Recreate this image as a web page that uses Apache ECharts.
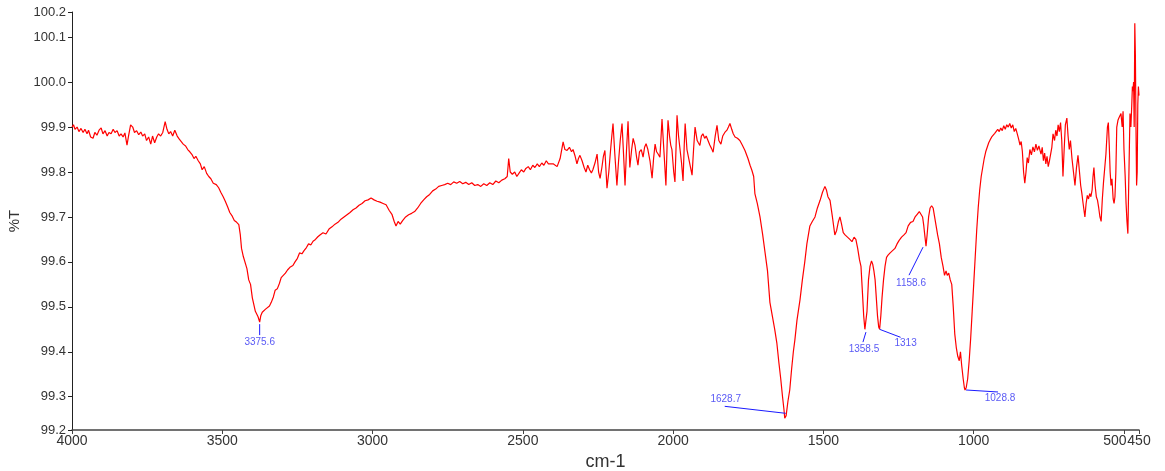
<!DOCTYPE html>
<html>
<head>
<meta charset="utf-8">
<title>FTIR %T spectrum</title>
<script src="https://cdn.jsdelivr.net/npm/echarts@6/dist/echarts.min.js"></script>
<style>
  html, body { margin: 0; padding: 0; background: #ffffff; overflow: hidden; }
  #chart { width: 1165px; height: 471px; }
</style>
</head>
<body>
<div id="chart"></div>
<script>
// Spectrum points: [wavenumber (cm-1), transmittance (%T)]
const spectrum = [
  [4000, 99.900], [3995, 99.905], [3990, 99.895], [3983, 99.900], [3977, 99.890],
  [3970, 99.897], [3963, 99.888], [3957, 99.895], [3950, 99.885], [3945, 99.893],
  [3938, 99.878], [3930, 99.875], [3924, 99.888], [3917, 99.882], [3910, 99.893],
  [3903, 99.898], [3897, 99.885], [3890, 99.892], [3883, 99.880], [3877, 99.888],
  [3870, 99.885], [3863, 99.895], [3857, 99.888], [3850, 99.892], [3843, 99.880],
  [3837, 99.885], [3830, 99.878], [3824, 99.887], [3817, 99.860], [3812, 99.880],
  [3805, 99.905], [3798, 99.900], [3792, 99.888], [3785, 99.892], [3778, 99.883],
  [3771, 99.889], [3765, 99.880], [3758, 99.885], [3752, 99.870], [3745, 99.878],
  [3738, 99.862], [3732, 99.880], [3725, 99.865], [3718, 99.878], [3712, 99.885],
  [3705, 99.880], [3698, 99.888], [3690, 99.912], [3684, 99.895], [3678, 99.885],
  [3672, 99.890], [3665, 99.880], [3658, 99.893], [3650, 99.880], [3643, 99.873],
  [3637, 99.870], [3630, 99.862], [3622, 99.858], [3615, 99.850], [3608, 99.845],
  [3600, 99.838], [3594, 99.830], [3588, 99.835], [3580, 99.825], [3573, 99.818],
  [3567, 99.805], [3560, 99.812], [3552, 99.797], [3545, 99.790], [3538, 99.785],
  [3530, 99.775], [3520, 99.772], [3512, 99.765], [3505, 99.755], [3497, 99.745],
  [3490, 99.735], [3482, 99.722], [3475, 99.710], [3468, 99.703], [3460, 99.692],
  [3452, 99.688], [3445, 99.683], [3440, 99.660], [3436, 99.630], [3430, 99.612],
  [3424, 99.608], [3418, 99.585], [3412, 99.560], [3406, 99.550], [3400, 99.520],
  [3395, 99.505], [3390, 99.490], [3385, 99.488], [3381, 99.478], [3375.6, 99.466],
  [3372, 99.480], [3367, 99.488], [3362, 99.486], [3356, 99.495], [3350, 99.498],
  [3343, 99.502], [3337, 99.510], [3330, 99.522], [3324, 99.537], [3317, 99.540],
  [3310, 99.552], [3304, 99.565], [3297, 99.570], [3290, 99.575], [3283, 99.582],
  [3275, 99.588], [3265, 99.592], [3258, 99.600], [3250, 99.608], [3243, 99.620],
  [3235, 99.618], [3228, 99.625], [3220, 99.632], [3213, 99.640], [3205, 99.638],
  [3198, 99.646], [3190, 99.650], [3182, 99.656], [3175, 99.660], [3165, 99.665],
  [3155, 99.662], [3145, 99.673], [3135, 99.678], [3125, 99.684], [3115, 99.688],
  [3105, 99.695], [3095, 99.700], [3085, 99.705], [3075, 99.710], [3065, 99.716],
  [3055, 99.720], [3045, 99.726], [3035, 99.730], [3025, 99.736], [3015, 99.738],
  [3005, 99.742], [2995, 99.738], [2985, 99.735], [2975, 99.733], [2965, 99.730],
  [2955, 99.727], [2945, 99.715], [2935, 99.705], [2928, 99.690], [2922, 99.680],
  [2915, 99.690], [2908, 99.684], [2900, 99.692], [2890, 99.700], [2880, 99.705],
  [2870, 99.708], [2860, 99.712], [2850, 99.720], [2840, 99.730], [2830, 99.738],
  [2820, 99.745], [2810, 99.750], [2800, 99.758], [2790, 99.762], [2780, 99.768],
  [2770, 99.770], [2760, 99.772], [2750, 99.775], [2740, 99.772], [2730, 99.778],
  [2720, 99.775], [2710, 99.779], [2700, 99.774], [2690, 99.777], [2680, 99.772],
  [2670, 99.776], [2660, 99.770], [2650, 99.772], [2640, 99.768], [2630, 99.774],
  [2620, 99.770], [2610, 99.776], [2600, 99.772], [2590, 99.780], [2580, 99.776],
  [2570, 99.782], [2560, 99.785], [2552, 99.790], [2547, 99.830], [2542, 99.800],
  [2535, 99.795], [2527, 99.800], [2520, 99.790], [2512, 99.798], [2505, 99.805],
  [2497, 99.800], [2490, 99.808], [2482, 99.812], [2475, 99.805], [2467, 99.815],
  [2460, 99.810], [2452, 99.818], [2445, 99.812], [2437, 99.820], [2430, 99.815],
  [2422, 99.825], [2415, 99.818], [2410, 99.815], [2398, 99.818], [2386, 99.812],
  [2376, 99.830], [2366, 99.867], [2360, 99.850], [2353, 99.848], [2345, 99.855],
  [2338, 99.845], [2333, 99.850], [2326, 99.835], [2320, 99.818], [2315, 99.830],
  [2310, 99.837], [2303, 99.825], [2296, 99.810], [2290, 99.800], [2284, 99.815],
  [2278, 99.805], [2272, 99.798], [2267, 99.805], [2260, 99.820], [2253, 99.840],
  [2248, 99.800], [2243, 99.786], [2237, 99.810], [2232, 99.835], [2227, 99.848],
  [2220, 99.764], [2214, 99.800], [2208, 99.850], [2204, 99.880], [2200, 99.908],
  [2194, 99.840], [2187, 99.770], [2182, 99.820], [2176, 99.870], [2170, 99.908],
  [2165, 99.840], [2160, 99.770], [2155, 99.850], [2150, 99.913], [2147, 99.860],
  [2144, 99.810], [2138, 99.850], [2133, 99.875], [2127, 99.860], [2122, 99.835],
  [2117, 99.815], [2112, 99.845], [2106, 99.850], [2100, 99.833], [2095, 99.855],
  [2090, 99.863], [2084, 99.850], [2077, 99.825], [2070, 99.786], [2065, 99.830],
  [2060, 99.862], [2055, 99.845], [2050, 99.840], [2044, 99.833], [2040, 99.880],
  [2037, 99.918], [2030, 99.840], [2024, 99.770], [2020, 99.860], [2017, 99.915],
  [2012, 99.880], [2008, 99.860], [2004, 99.850], [1998, 99.800], [1994, 99.778],
  [1990, 99.860], [1987, 99.926], [1982, 99.880], [1977, 99.850], [1972, 99.820],
  [1967, 99.780], [1963, 99.860], [1960, 99.908], [1956, 99.870], [1954, 99.850],
  [1948, 99.830], [1942, 99.810], [1937, 99.793], [1932, 99.850], [1927, 99.900],
  [1920, 99.870], [1916, 99.865], [1911, 99.859], [1906, 99.880], [1901, 99.885],
  [1895, 99.875], [1890, 99.880], [1884, 99.870], [1878, 99.860], [1872, 99.852],
  [1867, 99.844], [1860, 99.880], [1854, 99.904], [1848, 99.870], [1841, 99.862],
  [1835, 99.880], [1828, 99.888], [1821, 99.893], [1816, 99.900], [1811, 99.908],
  [1805, 99.895], [1800, 99.885], [1794, 99.878], [1786, 99.875], [1778, 99.870],
  [1770, 99.860], [1761, 99.848], [1751, 99.830], [1744, 99.815], [1738, 99.804],
  [1732, 99.790], [1728, 99.752], [1720, 99.730], [1711, 99.700], [1702, 99.660],
  [1694, 99.620], [1686, 99.580], [1678, 99.510], [1670, 99.480], [1662, 99.450],
  [1655, 99.420], [1648, 99.375], [1642, 99.340], [1636, 99.300], [1631, 99.270],
  [1628.7, 99.252], [1624, 99.258], [1618, 99.290], [1612, 99.315], [1606, 99.360],
  [1600, 99.400], [1595, 99.426], [1588, 99.470], [1578, 99.515], [1570, 99.560],
  [1562, 99.600], [1555, 99.640], [1545, 99.680], [1537, 99.690], [1528, 99.700],
  [1520, 99.720], [1511, 99.737], [1503, 99.755], [1495, 99.768], [1490, 99.760],
  [1485, 99.745], [1478, 99.737], [1470, 99.700], [1462, 99.660], [1456, 99.670],
  [1450, 99.690], [1445, 99.700], [1440, 99.685], [1434, 99.665], [1428, 99.660],
  [1420, 99.655], [1412, 99.650], [1405, 99.645], [1398, 99.655], [1392, 99.650],
  [1386, 99.630], [1380, 99.605], [1375, 99.590], [1370, 99.530], [1366, 99.480],
  [1362, 99.450], [1358.5, 99.446], [1355, 99.490], [1350, 99.560], [1345, 99.590],
  [1340, 99.602], [1336, 99.595], [1332, 99.580], [1328, 99.560], [1324, 99.520],
  [1320, 99.480], [1316, 99.455], [1313, 99.450], [1309, 99.480], [1305, 99.520],
  [1300, 99.560], [1295, 99.590], [1290, 99.610], [1285, 99.615], [1278, 99.620],
  [1270, 99.625], [1262, 99.630], [1255, 99.640], [1248, 99.648], [1240, 99.655],
  [1232, 99.660], [1225, 99.665], [1218, 99.680], [1210, 99.688], [1202, 99.690],
  [1195, 99.700], [1188, 99.706], [1181, 99.712], [1175, 99.715], [1170, 99.700],
  [1166, 99.680], [1162, 99.655], [1158.6, 99.635], [1155, 99.660], [1150, 99.700],
  [1145, 99.720], [1140, 99.725], [1135, 99.720], [1130, 99.700], [1125, 99.680],
  [1120, 99.660], [1114, 99.640], [1108, 99.610], [1102, 99.590], [1097, 99.570],
  [1092, 99.580], [1088, 99.570], [1083, 99.575], [1078, 99.560], [1073, 99.550],
  [1068, 99.500], [1063, 99.440], [1058, 99.410], [1053, 99.390], [1048, 99.380],
  [1044, 99.400], [1040, 99.370], [1035, 99.340], [1031, 99.320], [1028.8, 99.315],
  [1025, 99.320], [1020, 99.340], [1015, 99.380], [1010, 99.430], [1005, 99.490],
  [1000, 99.550], [995, 99.610], [990, 99.670], [985, 99.720], [980, 99.760],
  [975, 99.790], [970, 99.810], [965, 99.830], [960, 99.845], [955, 99.855],
  [950, 99.865], [945, 99.872], [940, 99.878], [935, 99.882], [930, 99.886],
  [925, 99.888], [920, 99.895], [915, 99.890], [910, 99.898], [905, 99.892],
  [900, 99.903], [895, 99.895], [890, 99.905], [885, 99.900], [880, 99.908],
  [875, 99.898], [870, 99.905], [865, 99.890], [860, 99.897], [855, 99.885],
  [850, 99.872], [846, 99.860], [842, 99.868], [838, 99.845], [834, 99.800],
  [830, 99.775], [826, 99.800], [822, 99.832], [818, 99.820], [813, 99.850],
  [808, 99.838], [803, 99.856], [798, 99.845], [793, 99.862], [788, 99.848],
  [783, 99.858], [780, 99.850], [776, 99.840], [772, 99.855], [768, 99.825],
  [764, 99.842], [760, 99.818], [756, 99.835], [752, 99.812], [748, 99.825],
  [744, 99.840], [740, 99.855], [736, 99.885], [731, 99.870], [727, 99.893],
  [723, 99.880], [719, 99.905], [715, 99.890], [711, 99.910], [707, 99.870],
  [703, 99.790], [699, 99.850], [695, 99.905], [690, 99.920], [686, 99.880],
  [682, 99.850], [678, 99.870], [673, 99.830], [668, 99.800], [663, 99.770],
  [658, 99.810], [653, 99.837], [648, 99.800], [644, 99.770], [640, 99.752],
  [636, 99.730], [632, 99.710], [630, 99.700], [626, 99.730], [622, 99.748],
  [618, 99.740], [614, 99.752], [610, 99.745], [606, 99.760], [603, 99.790],
  [600, 99.810], [596, 99.770], [592, 99.745], [588, 99.737], [584, 99.720],
  [580, 99.700], [576, 99.690], [572, 99.740], [568, 99.778], [564, 99.780],
  [560, 99.840], [555, 99.900], [552, 99.910], [549, 99.860], [546, 99.800],
  [543, 99.770], [540, 99.785], [536, 99.740], [533, 99.730], [530, 99.745],
  [527, 99.800], [524, 99.900], [520, 99.915], [517, 99.920], [513, 99.920],
  [510, 99.930], [506, 99.900], [503, 99.935], [500, 99.850], [496, 99.790],
  [493, 99.730], [490, 99.690], [487, 99.663], [484, 99.780], [480, 99.930],
  [477, 99.900], [474, 99.950], [472, 99.990], [470, 99.980], [468, 100.000],
  [466, 99.900], [464, 100.131], [462, 100.060], [460, 99.900], [458, 99.770],
  [456, 99.800], [454, 99.950], [452, 99.990], [450, 99.970]
];

// Marked absorption bands
const peakWavenumbers = [3375.6, 1628.7, 1358.5, 1313, 1158.6, 1028.8];
const peakTransmittance = [99.466, 99.252, 99.446, 99.450, 99.635, 99.315];
const peakLabels = ['3375.6', '1628.7', '1358.5', '1313', '1158.6', '1028.8'];

// Axis tick values
const xTicks = [4000, 3500, 3000, 2500, 2000, 1500, 1000, 500, 450];
const xMainLabels = [4000, 3500, 3000, 2500, 2000, 1500, 1000, 500];
const xEndLabel = [450];
const yTicks = [99.226, 99.3, 99.4, 99.5, 99.6, 99.7, 99.8, 99.9, 100.0, 100.1, 100.156];

// Leader-line geometry for each band label, in pixels relative to the band point
const leaderLayout = [
  { from: [0, 2],  to: [0, 13],   text: [0, 20] },
  { from: [1, -5], to: [-60, -12], text: [-59, -19] },
  { from: [0, 1],  to: [-3, 11],  text: [-2, 18] },
  { from: [0, 0],  to: [21, 8],   text: [26, 14] },
  { from: [-3, 1], to: [-17, 29], text: [-15, 37] },
  { from: [1, 0],  to: [33, 2],   text: [35, 8] }
];

const chart = echarts.init(document.getElementById('chart'), null, { renderer: 'canvas' });

const axisFont = "'Liberation Sans', Arial, sans-serif";
const labelRich = {
  n: { fontFamily: axisFont, fontSize: 14, color: '#333' },
  l: { fontFamily: axisFont, fontSize: 14, color: '#333', padding: [0, 18, 0, 0] }
};

chart.setOption({
  animation: false,
  backgroundColor: '#ffffff',
  grid: { left: 72, right: 26, top: 12, bottom: 41, containLabel: false, outerBoundsMode: 'none' },
  xAxis: [
    {
      type: 'value',
      inverse: true,
      min: 450,
      max: 4000,
      name: 'cm-1',
      nameLocation: 'middle',
      nameGap: 22,
      nameTextStyle: { fontFamily: axisFont, fontSize: 18, color: '#333' },
      axisLine: { show: true, lineStyle: { color: '#444', width: 1.5 } },
      axisTick: { show: true, inside: false, length: 4, customValues: xTicks, lineStyle: { color: '#444' } },
      axisLabel: {
        customValues: xMainLabels,
        showMinLabel: true,
        showMaxLabel: true,
        margin: 4,
        fontFamily: axisFont,
        fontSize: 14,
        color: '#333',
        formatter: function (v) { return v === 500 ? '{l|500}' : '{n|' + v + '}'; },
        rich: labelRich
      },
      splitLine: { show: false }
    },
    {
      // end-of-range label at the low-wavenumber limit
      type: 'value',
      inverse: true,
      min: 450,
      max: 4000,
      position: 'bottom',
      axisLine: { show: false },
      axisTick: { show: false },
      axisLabel: {
        customValues: xEndLabel,
        showMinLabel: true,
        showMaxLabel: true,
        margin: 4,
        fontFamily: axisFont,
        fontSize: 14,
        color: '#333',
        formatter: function (v) { return '{n|' + v + '}'; },
        rich: labelRich
      },
      splitLine: { show: false }
    }
  ],
  yAxis: {
    type: 'value',
    min: 99.226,
    max: 100.156,
    name: '%T',
    nameLocation: 'middle',
    nameRotate: 90,
    nameGap: 43,
    nameTextStyle: { fontFamily: axisFont, fontSize: 15, color: '#333' },
    axisLine: { show: true, lineStyle: { color: '#222', width: 1 } },
    axisTick: { show: true, inside: false, length: 4, customValues: yTicks, lineStyle: { color: '#222' } },
    axisLabel: {
      customValues: yTicks,
      showMinLabel: true,
      showMaxLabel: true,
      margin: 6,
      fontFamily: axisFont,
      fontSize: 13,
      color: '#333',
      formatter: function (v) { return v.toFixed(1); }
    },
    splitLine: { show: false }
  },
  series: [
    {
      type: 'line',
      data: spectrum,
      showSymbol: false,
      symbol: 'none',
      sampling: 'none',
      lineStyle: { color: '#ff0000', width: 1.2 },
      z: 2
    },
    {
      type: 'custom',
      data: peakWavenumbers.map(function (w, i) { return [w, peakTransmittance[i], i]; }),
      z: 3,
      renderItem: function (params, api) {
        const i = api.value(2);
        const p = api.coord([api.value(0), api.value(1)]);
        const L = leaderLayout[i];
        return {
          type: 'group',
          children: [
            {
              type: 'line',
              shape: { x1: p[0] + L.from[0], y1: p[1] + L.from[1], x2: p[0] + L.to[0], y2: p[1] + L.to[1] },
              style: { stroke: '#1a1aff', lineWidth: 1 }
            },
            {
              type: 'text',
              x: p[0] + L.text[0],
              y: p[1] + L.text[1],
              style: {
                text: peakLabels[i],
                fill: '#5a5af5',
                font: "10px 'Liberation Sans', Arial, sans-serif",
                align: 'center',
                verticalAlign: 'middle'
              }
            }
          ]
        };
      }
    }
  ]
});
</script>
</body>
</html>
